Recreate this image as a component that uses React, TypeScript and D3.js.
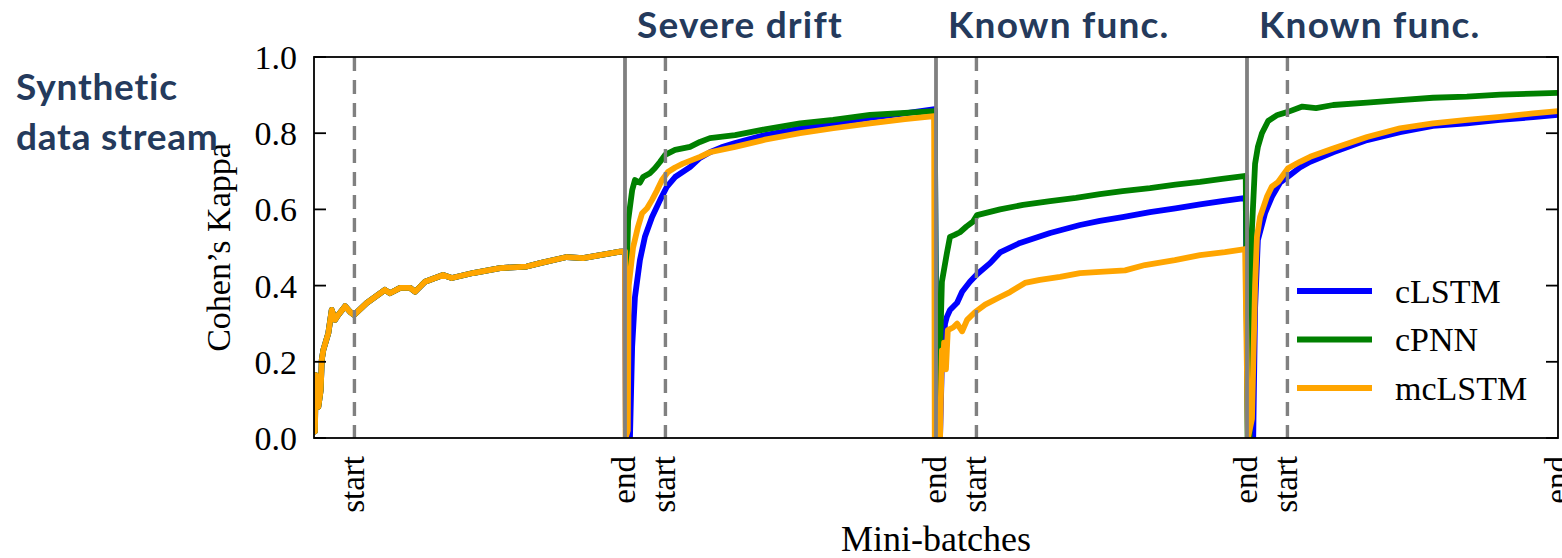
import React from "react";
import * as d3 from "d3";

// ---------- data ----------
const taskEnds = [100, 200, 300, 400];
const taskStarts = [13, 113, 213, 313];
const yTicks = [0, 0.2, 0.4, 0.6, 0.8, 1.0];
const headings = ["Severe drift", "Known func.", "Known func."];
const sideTitle = ["Synthetic", "data stream"];
const seriesNames = ["cLSTM", "cPNN", "mcLSTM"];
const seriesColors = ["#0000ff", "#008000", "#ffa500"];

// first task is shared by all models
const task1: [number, number][] = [
  [0, 0.02], [0.3, 0.017], [0.55, 0.165], [1.0, 0.09], [1.4, 0.082], [2.15, 0.126], [2.5, 0.205],
  [3.0, 0.231], [4.6, 0.275], [5.7, 0.336], [6.75, 0.31], [7.8, 0.323], [10, 0.346], [11.6, 0.331],
  [12.9, 0.323], [16.9, 0.354], [22.8, 0.389], [24.4, 0.38], [27.7, 0.394], [30.9, 0.394],
  [32.5, 0.384], [35.7, 0.41], [41.5, 0.428], [44.3, 0.42], [51.1, 0.433], [59.8, 0.446],
  [68.4, 0.45], [72.7, 0.459], [81.3, 0.475], [86.5, 0.472], [92, 0.48], [98.4, 0.489], [100, 0.49],
];

const cLSTM: [number, number][] = [
  ...task1,
  [100.3, 0.0], [101.6, 0.0], [102.3, 0.24], [103.2, 0.37], [104.8, 0.467], [106.4, 0.528],
  [108.7, 0.58], [111.3, 0.625], [113.5, 0.66], [116.1, 0.685], [120.9, 0.711], [124.1, 0.735],
  [127.3, 0.75], [131, 0.763], [135.4, 0.774], [145, 0.795], [156.3, 0.812], [167, 0.826],
  [178.8, 0.84], [190, 0.852], [199.6, 0.863],
  [200.2, 0.0], [201.3, 0.0], [201.9, 0.2], [202.9, 0.3], [203.5, 0.318], [204.5, 0.336],
  [206.8, 0.355], [208.4, 0.384], [210.9, 0.41], [213.2, 0.43], [217.4, 0.459], [220.6, 0.487],
  [227, 0.512], [236.7, 0.538], [246.3, 0.559], [252.7, 0.57], [260, 0.58], [268.8, 0.593],
  [277, 0.603], [284.9, 0.613], [292, 0.622], [299.6, 0.63],
  [300.3, 0.0], [302, 0.0], [302.6, 0.34], [303.5, 0.52], [305.8, 0.59], [308, 0.633],
  [310.6, 0.67], [313.8, 0.69], [317, 0.71], [320.3, 0.725], [327.7, 0.75], [338.6, 0.782],
  [349.2, 0.803], [359.8, 0.819], [370.7, 0.826], [381.4, 0.835], [392, 0.842], [400, 0.848],
];

const cPNN: [number, number][] = [
  ...task1,
  [100.6, 0.45], [101, 0.57], [102.3, 0.65], [103.2, 0.677], [104.8, 0.67], [105.8, 0.685],
  [108, 0.695], [109.6, 0.708], [111.3, 0.725], [112.9, 0.743], [116.1, 0.756], [120.9, 0.764],
  [124.1, 0.777], [127.3, 0.787], [135.4, 0.795], [145, 0.81], [156.3, 0.826], [166.9, 0.835],
  [178.8, 0.848], [190, 0.853], [199.6, 0.858],
  [200.2, 0.0], [201.0, 0.0], [201.3, 0.23], [201.9, 0.41], [203.5, 0.485], [204.5, 0.528],
  [206, 0.533], [207.7, 0.54], [209.8, 0.555], [211.9, 0.568], [213.2, 0.585], [220.6, 0.6],
  [228, 0.612], [236.7, 0.622], [245, 0.63], [252.7, 0.64], [260, 0.648], [268.8, 0.656],
  [277, 0.665], [284.9, 0.672], [292, 0.68], [299.6, 0.688],
  [300.2, 0.0], [300.8, 0.0], [301.2, 0.3], [301.6, 0.55], [302.6, 0.72], [303.5, 0.764],
  [304.8, 0.8], [306.8, 0.832], [309.8, 0.848], [313.2, 0.856], [317.8, 0.87], [322.2, 0.866],
  [327.7, 0.874], [338.6, 0.88], [349.2, 0.887], [359.8, 0.893], [370.7, 0.896], [381.4, 0.901],
  [392, 0.904], [400, 0.906],
];

const mcLSTM: [number, number][] = [
  ...task1,
  [100.2, 0.0], [100.9, 0.02], [101.2, 0.4], [102.6, 0.5], [104.2, 0.555], [105.5, 0.59],
  [107.1, 0.603], [108.7, 0.625], [110.3, 0.65], [111.9, 0.677], [113.8, 0.698], [116.1, 0.71],
  [118.6, 0.72], [124.1, 0.738], [127.3, 0.75], [135.4, 0.764], [145, 0.783], [156.3, 0.8],
  [167, 0.813], [178.8, 0.826], [190, 0.837], [199.4, 0.845],
  [199.6, 0.0], [201.3, 0.0], [201.9, 0.23], [202.3, 0.19], [202.6, 0.25], [203.2, 0.18],
  [203.8, 0.283], [205.5, 0.29], [206.8, 0.3], [208.4, 0.28], [210, 0.31], [212.5, 0.33],
  [215.8, 0.35], [220.6, 0.37], [223.8, 0.383], [228.6, 0.407], [233.4, 0.415], [239.9, 0.423],
  [246.3, 0.433], [252.7, 0.436], [260.8, 0.44], [267.2, 0.454], [276.8, 0.467], [284.9, 0.48],
  [292.9, 0.488], [299.4, 0.496],
  [300.3, 0.0], [301.6, 0.05], [302.6, 0.4], [303.2, 0.528], [304.2, 0.58], [306.4, 0.633],
  [308, 0.66], [310, 0.672], [313.2, 0.708], [317, 0.725], [320.3, 0.738], [327.7, 0.76],
  [338.6, 0.79], [349.2, 0.813], [359.8, 0.826], [370.7, 0.835], [381.4, 0.843], [392, 0.852],
  [400, 0.858],
];

const allSeries = [cLSTM, cPNN, mcLSTM];

// ---------- layout ----------
const W = 1562;
const H = 558;
const M = { left: 314, right: 1558, top: 57, bottom: 438 };
const SERIF = "'Liberation Serif', 'Times New Roman', serif";
const SANS = "Lato, 'Open Sans', sans-serif";
const NAVY = "#243a5c";
const GRAY = "#808080";

export default function App() {
  const x = d3.scaleLinear().domain([0, 400]).range([M.left, M.right]);
  const y = d3.scaleLinear().domain([0, 1]).range([M.bottom, M.top]);
  const line = d3
    .line<[number, number]>()
    .x((d) => x(d[0]))
    .y((d) => y(d[1]));
  const fmt = d3.format(".1f");
  const tickLen = 12;

  return (
    <svg
      width={W}
      height={H}
      style={{ position: "absolute", left: 0, top: 0, background: "#fff" }}
    >
      <defs>
        <clipPath id="plot">
          <rect x={M.left} y={M.top - 4} width={M.right - M.left} height={M.bottom - M.top + 4} />
        </clipPath>
      </defs>

      {/* series */}
      <g clipPath="url(#plot)">
        {allSeries.map((s, i) => (
          <path
            key={seriesNames[i]}
            d={line(s) || ""}
            fill="none"
            stroke={seriesColors[i]}
            strokeWidth={5.8}
            strokeLinejoin="round"
            strokeLinecap="butt"
          />
        ))}
      </g>

      {/* vertical markers */}
      {taskEnds.slice(0, 3).map((e) => (
        <line key={"e" + e} x1={x(e)} x2={x(e)} y1={M.top} y2={M.bottom} stroke={GRAY} strokeWidth={3.8} />
      ))}
      {taskStarts.map((s) => (
        <line
          key={"s" + s}
          x1={x(s)}
          x2={x(s)}
          y1={M.top}
          y2={M.bottom}
          stroke={GRAY}
          strokeWidth={3.4}
          strokeDasharray="14 9"
        />
      ))}

      {/* frame */}
      <rect
        x={M.left}
        y={M.top}
        width={M.right - M.left}
        height={M.bottom - M.top}
        fill="none"
        stroke="#000"
        strokeWidth={1.8}
      />

      {/* y ticks */}
      {yTicks.map((t) => (
        <g key={"y" + t}>
          <line x1={M.left} x2={M.left + tickLen} y1={y(t)} y2={y(t)} stroke="#000" strokeWidth={1.8} />
          <line x1={M.right - tickLen} x2={M.right} y1={y(t)} y2={y(t)} stroke="#000" strokeWidth={1.8} />
          <text
            x={M.left - 17}
            y={y(t)}
            dy="0.35em"
            textAnchor="end"
            fontFamily={SERIF}
            fontSize={34}
            fill="#000"
          >
            {fmt(t)}
          </text>
        </g>
      ))}

      {/* x tick labels (rotated) */}
      {taskStarts.map((s) => (
        <text
          key={"ls" + s}
          transform={`translate(${x(s)},${M.bottom + 18}) rotate(-90)`}
          dy="0.3em"
          textAnchor="end"
          fontFamily={SERIF}
          fontSize={33}
          fill="#000"
        >
          start
        </text>
      ))}
      {taskEnds.map((e) => (
        <text
          key={"le" + e}
          transform={`translate(${x(e)},${M.bottom + 18}) rotate(-90)`}
          dy="0.3em"
          textAnchor="end"
          fontFamily={SERIF}
          fontSize={33}
          fill="#000"
        >
          end
        </text>
      ))}

      {/* axis titles */}
      <text
        x={(M.left + M.right) / 2}
        y={551}
        textAnchor="middle"
        fontFamily={SERIF}
        fontSize={36}
        fill="#000"
      >
        Mini-batches
      </text>
      <text
        transform={`translate(230,${(M.top + M.bottom) / 2}) rotate(-90)`}
        textAnchor="middle"
        fontFamily={SERIF}
        fontSize={34}
        fill="#000"
      >
        Cohen’s Kappa
      </text>

      {/* legend */}
      {seriesNames.map((n, i) => {
        const ly = 291 + i * 48.5;
        return (
          <g key={"lg" + n}>
            <line x1={1297} x2={1372} y1={ly} y2={ly} stroke={seriesColors[i]} strokeWidth={6} />
            <text x={1395} y={ly} dy="0.35em" fontFamily={SERIF} fontSize={34} fill="#000">
              {n}
            </text>
          </g>
        );
      })}

      {/* headings */}
      {headings.map((h, i) => (
        <text
          key={"h" + i}
          x={x(taskEnds[i]) + 12}
          y={38}
          fontFamily={SANS}
          fontWeight={700}
          fontSize={37}
          letterSpacing={1.2}
          fill={NAVY}
        >
          {h}
        </text>
      ))}
      {sideTitle.map((t, i) => (
        <text
          key={"st" + i}
          x={16}
          y={100 + i * 50}
          fontFamily={SANS}
          fontWeight={700}
          fontSize={37}
          letterSpacing={0.8}
          fill={NAVY}
        >
          {t}
        </text>
      ))}
    </svg>
  );
}
